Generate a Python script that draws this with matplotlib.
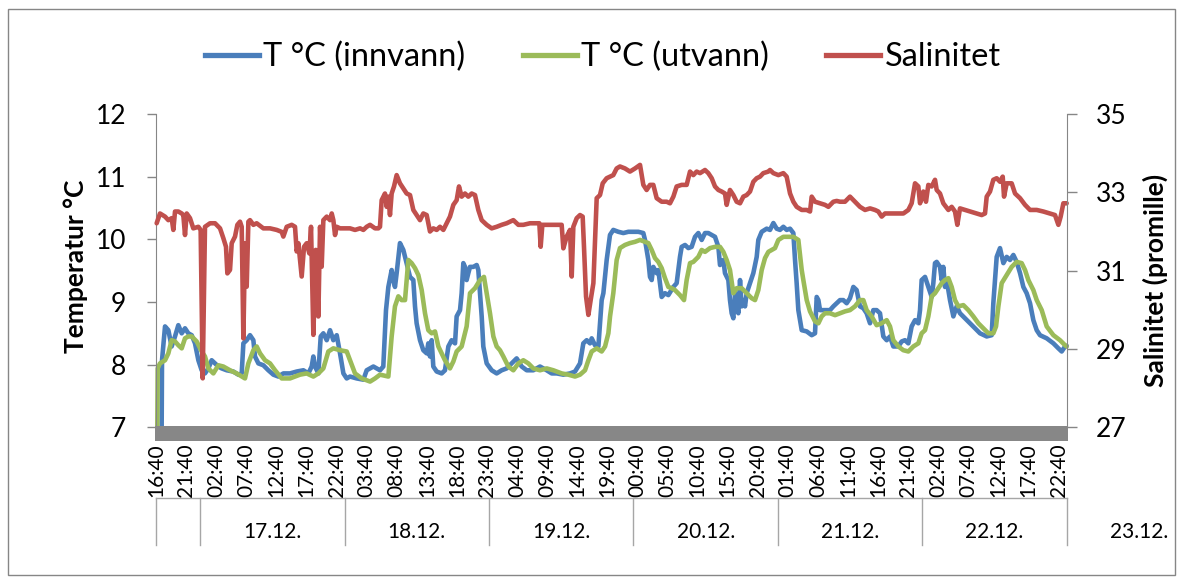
import matplotlib
matplotlib.use("Agg")
import matplotlib.pyplot as plt
from matplotlib.patches import Rectangle
from matplotlib.lines import Line2D
import numpy as np

plt.rcParams['font.family'] = ['Lato', 'DejaVu Sans']

# ---------------- data (hours since 16.12. 16:40, value) ----------------
series_names = ["T °C (innvann)", "T °C (utvann)", "Salinitet"]
series_colors = ["#4A7EBB", "#9BBB59", "#C0504D"]

temp_innvann = [
    (0.94, 7.00), (1.00, 8.07), (1.50, 8.61), (2.05, 8.55), (2.60, 8.29), (3.16, 8.45), (3.71, 8.63),
    (4.27, 8.50), (4.82, 8.58), (5.37, 8.50), (5.93, 8.47), (6.48, 8.34), (7.04, 8.07), (7.59, 7.91),
    (8.14, 7.86), (8.70, 7.94), (9.25, 8.07), (9.81, 8.02), (10.36, 7.97), (10.91, 7.94), (11.75, 7.91),
    (12.85, 7.89), (13.68, 7.84), (14.24, 7.86), (14.52, 8.34), (15.07, 8.39), (15.62, 8.47), (16.18, 8.39),
    (16.45, 8.13), (17.01, 8.02), (17.84, 7.99), (18.67, 7.91), (19.50, 7.84), (20.33, 7.81), (21.16, 7.86),
    (22.27, 7.86), (23.38, 7.89), (24.49, 7.91), (25.32, 7.86), (25.87, 7.97), (26.15, 8.13), (26.43, 7.97),
    (26.98, 7.86), (27.37, 8.45), (27.81, 8.50), (28.37, 8.39), (28.92, 8.55), (29.47, 8.39), (30.03, 8.47),
    (30.58, 8.18), (31.14, 7.86), (31.69, 7.78), (32.24, 7.81), (33.35, 7.78), (34.46, 7.76), (35.01, 7.91),
    (36.12, 7.97),
    (37.22, 7.91), (37.77, 7.97), (38.22, 8.87), (38.61, 9.24), (39.16, 9.51), (39.44, 9.35), (39.71, 9.24),
    (39.99, 9.46), (40.54, 9.94), (41.10, 9.83), (41.65, 9.62), (42.21, 9.40), (42.76, 9.35), (43.04, 8.93),
    (43.31, 8.66), (43.87, 8.39), (44.42, 8.23), (44.98, 8.18), (45.25, 8.34), (45.53, 8.13), (45.81, 8.39),
    (46.08, 7.97), (46.64, 7.89), (47.47, 7.86), (48.02, 7.91), (48.58, 8.29), (49.13, 8.39), (49.69, 8.34),
    (49.96, 8.77), (50.52, 8.87), (50.79, 9.14), (51.07, 9.62), (51.35, 9.56), (51.62, 9.35), (51.90, 9.46),
    (52.18, 9.56), (52.73, 9.56), (53.29, 9.59), (53.56, 9.51), (53.84, 9.14), (54.12, 8.77), (54.39, 8.29),
    (54.95, 8.02), (55.78, 7.91), (56.61, 7.86), (57.44, 7.91), (58.27, 7.94), (59.10, 8.02), (59.93, 8.10),
    (60.77, 7.97), (61.60, 7.91), (62.70, 7.91), (63.81, 7.97), (64.92, 7.91), (65.75, 7.86), (66.58, 7.86),
    (67.69, 7.84), (68.80, 7.86), (69.63, 7.89), (70.46, 8.02), (71.01, 8.34), (71.57, 8.39), (72.12, 8.34),
    (72.40, 8.42), (72.95, 8.31), (73.51, 8.29), (74.06, 9.03), (74.34, 9.14), (74.89, 9.67),
    (75.44, 10.07), (75.99, 10.15), (76.83, 10.12), (77.66, 10.10), (78.49, 10.12), (79.32, 10.12),
    (80.15, 10.12), (80.98, 10.10), (81.26, 9.99), (81.81, 9.67), (82.09, 9.40), (82.37, 9.35), (82.64, 9.56),
    (83.20, 9.46), (83.47, 9.51), (83.75, 9.30), (84.03, 9.08), (84.58, 9.14), (85.14, 9.11), (85.97, 9.24),
    (86.52, 9.30), (87.07, 9.72), (87.35, 9.88), (87.91, 9.91), (88.46, 9.86), (89.01, 9.88), (89.57, 10.04),
    (90.12, 10.10), (90.68, 9.99), (91.23, 10.10), (91.78, 10.10), (92.34, 10.07), (92.89, 10.04),
    (93.45, 9.88), (93.72, 9.59), (94.28, 9.67), (94.55, 9.46), (95.11, 9.35), (95.38, 9.03), (95.66, 8.82),
    (95.94, 8.74), (96.22, 9.14), (96.77, 8.82), (97.05, 9.35), (97.32, 8.93), (97.60, 9.03), (97.88, 8.93),
    (98.15, 9.14), (98.71, 9.30), (99.26, 9.46), (99.82, 9.72), (100.09, 9.99), (100.65, 10.12),
    (101.48, 10.17), (102.03, 10.15), (102.59, 10.26), (103.14, 10.17), (103.69, 10.15), (104.25, 10.20),
    (104.80, 10.15), (105.36, 10.17), (105.91, 10.10), (106.19, 9.67), (106.46, 9.30), (106.74, 8.87),
    (107.30, 8.55), (108.13, 8.53), (108.96, 8.47), (109.51, 8.50), (109.79, 9.08), (110.07, 9.03),
    (110.34, 8.87), (111.17, 8.87), (112.00, 8.87), (112.56, 8.93), (113.11, 8.98),
    (113.66, 9.03), (114.21, 9.03), (114.77, 8.98), (115.32, 9.06), (115.88, 9.24), (116.43, 9.19),
    (116.98, 8.93), (117.54, 8.90), (118.09, 8.82), (118.65, 8.66), (119.20, 8.87), (119.75, 8.87),
    (120.31, 8.82), (120.86, 8.45), (121.42, 8.39), (121.97, 8.45), (122.52, 8.29), (123.36, 8.29),
    (123.91, 8.37), (124.46, 8.39), (125.02, 8.34), (125.57, 8.61), (126.13, 8.71), (126.68, 8.66),
    (126.96, 8.87), (127.23, 9.35), (127.79, 9.40), (128.34, 9.24), (128.90, 9.08), (129.17, 9.30),
    (129.45, 9.62), (129.73, 9.64), (130.28, 9.56), (130.56, 9.35), (130.83, 9.56), (131.11, 9.24),
    (131.39, 9.35), (131.94, 9.03), (132.50, 8.77), (133.05, 8.93), (133.60, 8.82), (134.44, 8.74),
    (135.27, 8.66), (136.10, 8.58), (136.93, 8.50), (138.04, 8.45), (138.87, 8.47), (139.14, 8.98),
    (139.70, 9.72), (140.25, 9.86), (140.81, 9.62), (141.36, 9.72), (141.91, 9.67), (142.47, 9.75),
    (143.02, 9.64), (143.58, 9.46), (144.13, 9.24), (144.68, 9.14), (145.24, 8.98), (145.79, 8.71),
    (146.35, 8.55), (146.90, 8.47), (148.01, 8.42), (149.12, 8.34), (149.95, 8.26), (150.50, 8.21),
    (151.06, 8.29), (151.33, 8.30),
]

temp_utvann = [
    (0.22, 7.00), (0.28, 7.94), (0.66, 8.02), (1.50, 8.07), (2.05, 8.18), (2.60, 8.39), (3.16, 8.37),
    (3.71, 8.31), (4.27, 8.26), (4.82, 8.42), (5.37, 8.45), (5.93, 8.45), (6.76, 8.37), (7.59, 8.21),
    (8.14, 8.13), (8.70, 7.94), (9.53, 7.86), (10.36, 7.99), (11.19, 7.97), (12.30, 7.91), (13.41, 7.86),
    (14.79, 7.78), (15.35, 8.02), (16.18, 8.23), (16.73, 8.29), (17.29, 8.18), (18.12, 8.07), (18.95, 8.02),
    (19.78, 7.91), (20.89, 7.78), (22.27, 7.78), (23.93, 7.84), (25.04, 7.86), (26.15, 7.81), (26.98, 7.86),
    (27.81, 7.94), (28.64, 8.21), (29.47, 8.26), (30.58, 8.23), (31.69, 8.21), (32.24, 8.07), (33.07, 7.86),
    (34.18, 7.78), (35.57, 7.73), (36.40, 7.78),
    (37.22, 7.84), (38.61, 7.81), (39.16, 8.45), (39.71, 8.93), (40.27, 9.09), (40.82, 9.03), (41.38, 9.03),
    (41.93, 9.67), (42.48, 9.62), (43.04, 9.54), (43.59, 9.43), (44.15, 9.19), (44.70, 8.82), (45.25, 8.55),
    (45.81, 8.50), (46.36, 8.53), (46.92, 8.29), (47.47, 8.18), (48.02, 8.07), (48.85, 7.94), (49.41, 8.05),
    (49.96, 8.21), (50.79, 8.29), (51.62, 8.61), (52.18, 9.14), (53.01, 9.22), (53.84, 9.35), (54.50, 9.40),
    (54.95, 9.14), (55.50, 8.82), (56.06, 8.45), (56.61, 8.29), (57.16, 8.23), (57.72, 8.13), (58.55, 7.97),
    (59.38, 7.91), (60.21, 8.02), (61.04, 8.07), (61.87, 8.02), (62.70, 7.94), (63.81, 7.91), (64.92, 7.94),
    (66.03, 7.91), (67.41, 7.86), (68.52, 7.84), (69.63, 7.81), (70.46, 7.84), (71.29, 7.91), (71.85, 8.07),
    (72.40, 8.21), (73.23, 8.26), (74.06, 8.21), (74.62, 8.29), (75.17, 8.50), (75.45, 8.77),
    (75.99, 9.14), (76.55, 9.67), (77.10, 9.86), (77.93, 9.91), (78.76, 9.94), (79.60, 9.96), (80.43, 9.99),
    (81.26, 9.96), (81.81, 9.94), (82.37, 9.83), (82.92, 9.70), (83.47, 9.64), (84.03, 9.54), (84.58, 9.38),
    (85.14, 9.24), (85.69, 9.22), (86.24, 9.19), (87.07, 9.11), (87.74, 9.03), (88.18, 9.35), (88.74, 9.62),
    (89.29, 9.64), (90.12, 9.72), (90.68, 9.83), (91.23, 9.80), (92.06, 9.86), (92.89, 9.88), (93.72, 9.88),
    (94.28, 9.80), (94.83, 9.67), (95.38, 9.51), (95.94, 9.14), (96.49, 9.22), (97.32, 9.22), (98.15, 9.14),
    (98.99, 9.06), (99.54, 9.03), (100.09, 9.19), (100.65, 9.51), (101.20, 9.70), (101.76, 9.80),
    (102.31, 9.83), (102.86, 9.86), (103.42, 9.99), (104.25, 10.04), (105.08, 10.04), (105.91, 10.04),
    (106.74, 9.99), (107.30, 9.51), (107.57, 9.35), (108.13, 9.03), (108.68, 8.85), (109.51, 8.69),
    (110.07, 8.66), (110.62, 8.77), (111.17, 8.82), (112.00, 8.82), (112.84, 8.79),
    (113.66, 8.82), (114.49, 8.85), (115.32, 8.87), (116.15, 8.93), (116.98, 9.03), (117.54, 9.03),
    (118.09, 8.87), (118.92, 8.77), (119.75, 8.63), (120.59, 8.66), (121.42, 8.71), (121.97, 8.61),
    (122.52, 8.39), (123.36, 8.29), (124.19, 8.23), (125.02, 8.21), (125.85, 8.29), (126.68, 8.34),
    (127.23, 8.50), (127.79, 8.55), (128.34, 8.77), (128.90, 9.09), (129.45, 9.14), (130.00, 9.22),
    (130.56, 9.30), (131.11, 9.35), (131.67, 9.38), (132.22, 9.24), (132.77, 9.03), (133.33, 8.93),
    (134.16, 8.95), (134.99, 8.87), (135.82, 8.77), (136.65, 8.66), (137.48, 8.58), (138.31, 8.50),
    (139.14, 8.50), (139.59, 8.61), (139.98, 8.93), (140.53, 9.30), (141.36, 9.43), (142.19, 9.56),
    (143.02, 9.64), (143.85, 9.62), (144.41, 9.51), (144.96, 9.35), (145.79, 9.19), (146.35, 9.03),
    (147.18, 8.87), (148.01, 8.61), (149.12, 8.47), (150.22, 8.39), (151.06, 8.31), (151.33, 8.29),
]

salinitet = [
    (0.11, 32.21), (0.66, 32.46), (1.50, 32.38), (2.05, 32.29), (2.60, 32.34), (2.88, 32.04), (3.16, 32.51),
    (3.71, 32.51), (4.27, 32.46), (4.54, 32.42), (4.82, 31.91), (5.10, 32.46), (5.65, 32.34), (6.20, 32.08),
    (7.04, 32.12), (7.42, 32.04), (7.76, 28.25), (8.14, 32.12), (8.98, 32.21), (9.81, 32.21), (10.64, 32.08),
    (11.19, 31.83), (11.63, 31.61), (11.86, 30.93), (12.30, 31.02), (12.58, 31.70), (13.13, 31.87),
    (13.52, 32.17), (13.96, 32.25), (14.24, 32.12), (14.52, 29.27), (14.79, 31.70), (15.07, 30.59),
    (15.35, 32.25), (15.62, 32.29), (16.18, 32.17), (16.73, 32.21), (17.84, 32.08), (18.95, 32.08),
    (20.06, 32.04), (20.89, 31.99), (21.16, 31.87), (21.72, 32.12), (22.55, 32.17), (23.10, 32.12),
    (23.38, 31.49), (23.66, 31.70), (24.21, 30.85), (24.60, 31.61), (25.04, 31.70), (25.48, 31.44),
    (25.76, 32.12), (26.15, 29.36), (26.54, 31.53), (26.98, 29.83), (27.26, 32.12), (27.53, 31.10),
    (27.81, 32.29), (28.37, 32.38), (28.92, 32.29), (29.20, 32.46), (29.47, 32.29), (29.75, 31.91),
    (30.03, 32.12), (30.58, 32.08), (31.41, 32.08), (32.24, 32.08), (33.07, 32.04), (33.91, 32.08),
    (34.46, 32.04), (35.01, 32.12), (35.57, 32.17), (36.40, 32.08), (36.95, 32.08),
    (37.22, 32.12), (37.50, 32.80), (38.05, 32.97), (38.33, 32.63), (38.61, 32.89), (38.88, 32.42),
    (39.16, 32.97), (39.55, 33.15), (39.99, 33.44), (40.54, 33.23), (41.10, 33.10), (41.65, 32.97),
    (42.21, 32.93), (42.76, 32.55), (43.31, 32.42), (43.87, 32.29), (44.42, 32.46), (44.98, 32.42),
    (45.25, 32.21), (45.53, 32.00), (46.08, 32.08), (46.64, 32.04), (47.19, 32.12), (47.75, 32.04),
    (48.30, 32.21), (48.85, 32.38), (49.41, 32.68), (49.96, 32.80), (50.35, 33.15), (50.79, 32.89),
    (51.35, 32.97), (51.90, 32.89), (52.46, 32.97), (53.01, 32.93), (53.56, 32.55), (54.12, 32.29),
    (54.95, 32.17), (55.78, 32.08), (56.61, 32.12), (57.44, 32.17), (58.27, 32.21), (59.38, 32.29),
    (60.21, 32.17), (61.04, 32.17), (62.15, 32.21), (63.26, 32.21), (63.70, 32.21), (63.92, 31.61),
    (64.20, 32.17), (64.92, 32.17), (66.03, 32.17), (67.41, 32.17), (67.69, 31.57), (68.24, 31.87),
    (68.80, 32.04), (69.08, 30.85), (69.35, 32.12), (69.91, 32.34), (70.46, 32.42), (70.90, 32.38),
    (71.12, 31.61), (71.46, 30.34), (71.85, 29.87), (72.23, 30.25), (72.68, 30.68), (73.23, 32.85),
    (73.78, 32.93), (74.23, 33.23), (74.89, 33.36),
    (75.44, 33.40), (75.99, 33.44), (76.55, 33.61), (77.10, 33.66), (77.93, 33.61), (78.76, 33.53),
    (79.60, 33.61), (80.43, 33.70), (80.98, 33.19), (81.53, 33.06), (82.09, 33.19), (82.64, 33.19),
    (83.20, 32.85), (84.03, 32.76), (84.86, 32.76), (85.41, 32.72), (85.97, 32.89), (86.52, 33.15),
    (87.35, 33.19), (88.18, 33.19), (88.74, 33.53), (89.29, 33.44), (89.84, 33.53), (90.40, 33.49),
    (91.23, 33.57), (91.78, 33.49), (92.34, 33.36), (92.89, 33.15), (93.45, 33.06), (94.00, 33.02),
    (94.55, 32.97), (94.83, 32.68), (95.38, 33.06), (95.94, 32.93), (96.49, 32.76), (97.05, 32.72),
    (97.60, 32.89), (98.15, 32.93), (98.71, 33.02), (99.26, 33.27), (99.82, 33.36), (100.37, 33.40),
    (100.92, 33.49), (101.76, 33.53), (102.03, 33.57), (102.59, 33.49), (103.42, 33.44), (104.25, 33.49),
    (104.80, 33.40), (105.36, 32.97), (105.91, 32.76), (106.46, 32.63), (107.30, 32.55), (108.13, 32.55),
    (108.68, 32.51), (108.96, 32.89), (109.51, 32.76), (110.34, 32.72), (111.17, 32.68), (111.73, 32.63),
    (112.56, 32.76), (113.11, 32.78),
    (113.66, 32.76), (114.49, 32.76), (115.32, 32.89), (116.15, 32.76), (116.98, 32.63), (117.82, 32.55),
    (118.65, 32.59), (119.48, 32.55), (120.03, 32.51), (120.59, 32.38), (121.14, 32.46), (121.97, 32.46),
    (123.08, 32.46), (124.19, 32.46), (125.02, 32.55), (125.57, 32.72), (126.13, 33.23), (126.68, 33.15),
    (126.96, 32.72), (127.51, 33.02), (127.95, 32.76), (128.34, 33.19), (128.90, 33.15), (129.45, 33.32),
    (129.73, 33.06), (130.28, 32.97), (130.83, 32.72), (131.67, 32.55), (132.22, 32.63), (132.77, 32.51),
    (133.16, 32.17), (133.60, 32.59), (134.44, 32.55), (135.27, 32.51), (136.37, 32.46), (137.21, 32.42),
    (137.76, 32.46), (138.04, 32.89), (138.59, 33.02), (139.14, 33.32), (139.70, 33.36), (140.25, 33.27),
    (140.70, 33.40), (140.92, 32.89), (141.36, 33.23), (142.19, 33.23), (142.75, 32.97), (143.58, 32.85),
    (144.41, 32.68), (145.24, 32.55), (146.35, 32.55), (147.45, 32.51), (148.56, 32.46), (149.39, 32.42),
    (149.95, 32.17), (150.33, 32.38), (150.78, 32.72), (151.33, 32.72),
]

# x-axis categories: a label every 5 hours starting 16.12. 16:40
time_labels = ["16:40", "21:40", "02:40", "07:40", "12:40", "17:40", "22:40", "03:40", "08:40", "13:40",
               "18:40", "23:40", "04:40", "09:40", "14:40", "19:40", "00:40", "05:40", "10:40", "15:40",
               "20:40", "01:40", "06:40", "11:40", "16:40", "21:40", "02:40", "07:40", "12:40", "17:40",
               "22:40"]
day_labels = ["17.12.", "18.12.", "19.12.", "20.12.", "21.12.", "22.12.", "23.12."]
first_midnight = 7 + 20 / 60          # 17.12. 00:00 in hours after 16.12. 16:40
x_end = first_midnight + 6 * 24       # 23.12. 00:00

temp_ticks = [7, 8, 9, 10, 11, 12]
sal_ticks = [27, 29, 31, 33, 35]

# ---------------- figure ----------------
W, H = 1182, 582
fig = plt.figure(figsize=(W / 100, H / 100), dpi=100)
fx = lambda px: px / W
fy = lambda py: 1 - py / H

AX_L, AX_R, AX_T, AX_B = 156, 1066.7, 114, 427.3
ax = fig.add_axes([fx(AX_L), fy(AX_B), (AX_R - AX_L) / W, (AX_B - AX_T) / H])
ax2 = ax.twinx()

GRAY = "#868686"
LW = 3.3

for pts, col, a in [(temp_innvann, series_colors[0], ax), (temp_utvann, series_colors[1], ax),
                    (salinitet, series_colors[2], ax2)]:
    xs = [p[0] for p in pts]
    ys = [p[1] for p in pts]
    a.plot(xs, ys, color=col, lw=LW, solid_joinstyle='round', solid_capstyle='round', clip_on=False)

ax.set_xlim(0, x_end)
ax.set_ylim(temp_ticks[0], temp_ticks[-1])
ax2.set_ylim(sal_ticks[0], sal_ticks[-1])
ax.set_yticks(temp_ticks)
ax2.set_yticks(sal_ticks)

ax.set_xticks(np.arange(len(time_labels)) * 5)
ax.set_xticklabels(time_labels, rotation=90, fontsize=15)
ax.tick_params(axis='x', length=0, pad=11.5)
ax.tick_params(axis='y', direction='out', length=6.5, width=1, color=GRAY, labelsize=19, pad=15)
ax2.tick_params(axis='y', direction='out', length=7, width=1, color=GRAY, labelsize=19, pad=14)

for s in ['top', 'bottom', 'right']:
    ax.spines[s].set_visible(False)
for s in ['top', 'bottom', 'left']:
    ax2.spines[s].set_visible(False)
ax.spines['left'].set_color(GRAY)
ax2.spines['right'].set_color(GRAY)

# thick grey category-axis band
fig.add_artist(Rectangle((fx(155), fy(441)), (AX_R + 1 - 155) / W, 15 / H,
                         transform=fig.transFigure, facecolor="#878787", edgecolor='none'))

# multi-level category axis: date groups
fig.add_artist(Line2D([fx(AX_L), fx(AX_R)], [fy(498), fy(498)], transform=fig.transFigure,
                      color="#A6A6A6", lw=1))
bounds = [0] + [first_midnight + 24 * k for k in range(7)]
px_per_h = (AX_R - AX_L) / x_end
for b in bounds:
    xp = AX_L + b * px_per_h
    fig.add_artist(Line2D([fx(xp), fx(xp)], [fy(498), fy(545)], transform=fig.transFigure,
                          color="#A6A6A6", lw=1))
for k, lab in enumerate(day_labels):
    xc = AX_L + (first_midnight + 24 * k + 12) * px_per_h
    fig.text(fx(xc), fy(532), lab, ha='center', va='center', fontsize=15)

# axis titles
fig.text(fx(76), fy(266), "Temperatur °C", rotation=90, ha='center', va='center',
         fontsize=19, fontweight='bold')
fig.text(fx(1155), fy(280), "Salinitet (promille)", rotation=90, ha='center', va='center',
         fontsize=19, fontweight='bold')

# legend
handles = [Line2D([], [], color=c, lw=3.8) for c in series_colors]
fig.legend(handles, series_names, loc='center', bbox_to_anchor=(fx(603), fy(57)), ncol=3,
           frameon=False, fontsize=23.5, handlelength=1.65, handletextpad=0.15, columnspacing=1.75)

# chart border
fig.add_artist(Rectangle((fx(8), fy(575)), (1175 - 8) / W, (575 - 9) / H, transform=fig.transFigure,
                         facecolor='none', edgecolor=GRAY, lw=1))

fig.savefig("out.png", dpi=100)
